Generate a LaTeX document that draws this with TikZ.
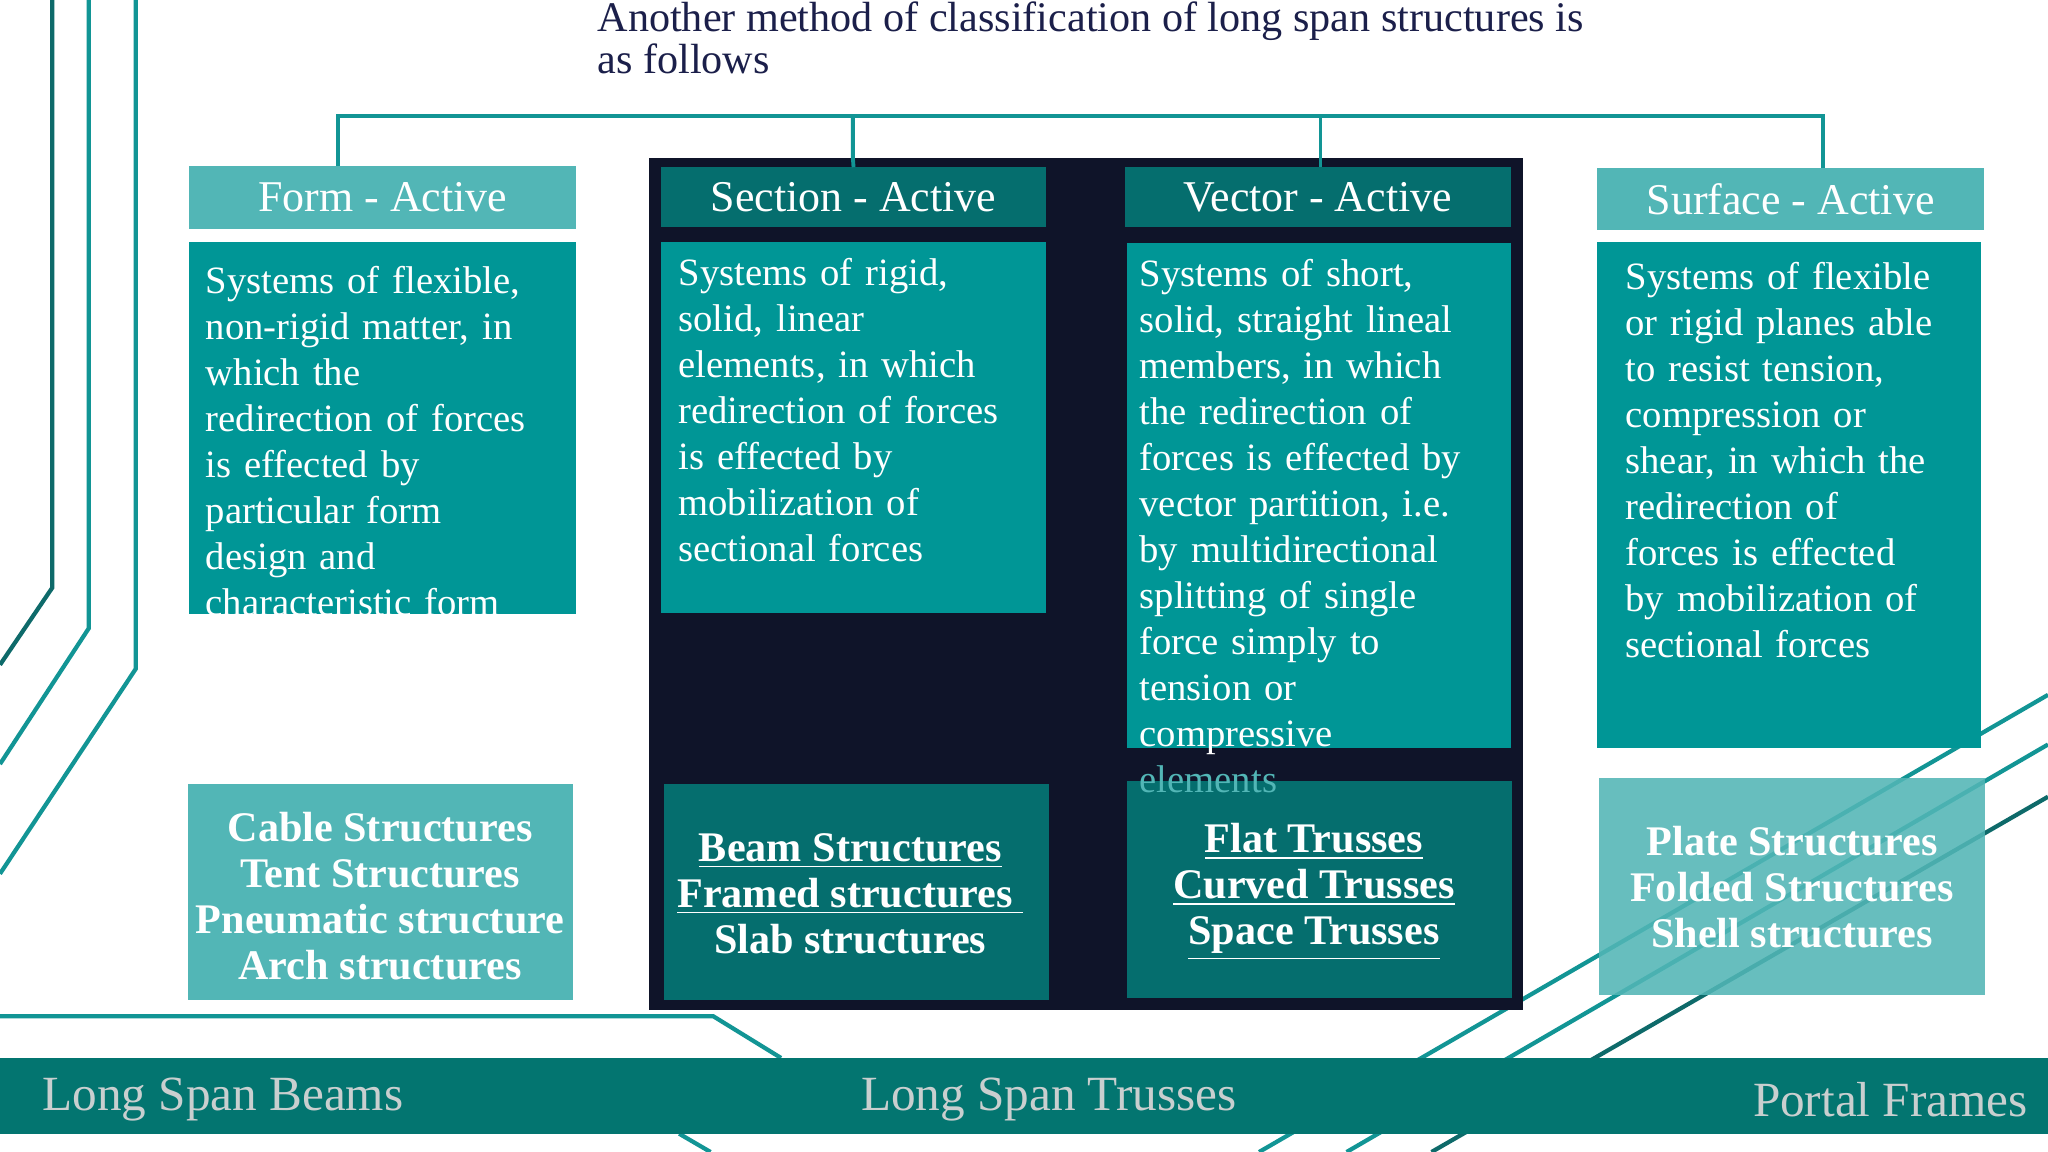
\documentclass[tikz,border=0pt]{standalone}
\usepackage{fontspec}
\setmainfont{Liberation Serif}
\definecolor{lt}{HTML}{52B6B6}
\definecolor{bd}{HTML}{009696}
\definecolor{dk}{HTML}{056E6E}
\definecolor{nv}{HTML}{0F1429}
\definecolor{band}{HTML}{037570}
\definecolor{bandtx}{HTML}{C9CFCF}
\definecolor{ttl}{HTML}{1B1F4A}
\definecolor{ln}{HTML}{129595}
\definecolor{ln2}{HTML}{0E6A6A}
\newcommand\jl[1]{\makebox[\linewidth][s]{#1}\par}
\newcommand\nl[1]{\mbox{#1}\par}
\begin{document}
\begin{tikzpicture}[x=0.013061cm,y=-0.013061cm,
  rect/.style={inner sep=0pt,outer sep=0pt,draw=none},
  hdr/.style={rect,text=white,font=\fontsize{12.5}{14}\selectfont},
  bodytx/.style={inner sep=0pt,anchor=north west,text=white,font=\fontsize{11}{13.1}\selectfont},
  bottx/.style={inner sep=0pt,align=center,text=white,font=\bfseries\fontsize{12}{13.1}\selectfont},
  deco/.style={ln,line width=1.2pt},
  conn/.style={ln,line width=1.1pt}]
\useasboundingbox (0,0) rectangle (1568,882);
\fill[white] (0,0) rectangle (1568,882);
% decorative lines
\draw[ln2,line width=1.2pt] (40,0) -- (40,450) -- (0,509);
\draw[deco] (68,0) -- (68,481) -- (0,585);
\draw[deco] (104,0) -- (104,512) -- (0,669);
\draw[deco] (0,778) -- (546,778) -- (598,810);
\draw[deco] (520,868) -- (544,882);
\draw[deco] (964,882) -- (1568,532);
\draw[deco] (1031,882) -- (1568,570);
\draw[ln2,line width=1.2pt] (1096,882) -- (1568,610);
% title
\node (title) [inner sep=0pt,anchor=north west,align=left,text=ttl,font=\fontsize{12}{11.8}\selectfont] at (457,1) {Another method of classification of long span structures is\\as follows};
% navy frame
\node (frame) [rect,fill=nv,minimum width={669*0.013061cm},minimum height={652*0.013061cm}] at (831.5,447) {};
% headers
\node (fh) [hdr,fill=lt,minimum width={296*0.013061cm},minimum height={48*0.013061cm}] at (293,151) {Form - Active};
\node (sh) [hdr,fill=dk,minimum width={295*0.013061cm},minimum height={46*0.013061cm}] at (653.5,151) {Section - Active};
\node (vh) [hdr,fill=dk,minimum width={296*0.013061cm},minimum height={46*0.013061cm}] at (1009,151) {Vector - Active};
\node (suh) [hdr,fill=lt,minimum width={296*0.013061cm},minimum height={47*0.013061cm}] at (1371,152.5) {Surface - Active};
% connectors
\coordinate (bus) at (0,89);
\coordinate (d1) at (259,127);
\coordinate (d2) at (653,121);
\coordinate (d3) at (1011,128);
\coordinate (d4) at (1396,129);
\draw[conn] (d1) -- (d1 |- bus) -- (d4 |- bus) -- (d4);
\draw[conn] (d2 |- bus) -- (d2) -- (sh.north);
\draw[conn] (d3 |- bus) -- (d3);
% body boxes
\node (fb) [rect,fill=bd,minimum width={296*0.013061cm},minimum height={285*0.013061cm}] at (293,327.5) {};
\node (sb) [rect,fill=bd,minimum width={295*0.013061cm},minimum height={284*0.013061cm}] at (653.5,327) {};
\node (vb) [rect,fill=bd,minimum width={294*0.013061cm},minimum height={387*0.013061cm}] at (1010,379.5) {};
\node (sub) [rect,fill=bd,minimum width={294*0.013061cm},minimum height={388*0.013061cm}] at (1370,379) {};
% bottom boxes
\node (fbt) [rect,fill=lt,minimum width={295*0.013061cm},minimum height={166*0.013061cm}] at (291.5,683) {};
\node (sbt) [rect,fill=dk,minimum width={295*0.013061cm},minimum height={166*0.013061cm}] at (655.5,683) {};
\node (vbt) [rect,fill=dk,minimum width={295*0.013061cm},minimum height={166*0.013061cm}] at (1010.5,681) {};
\node (subt) [rect,fill=lt,fill opacity=0.88,minimum width={296*0.013061cm},minimum height={166*0.013061cm}] at (1372,679) {};
% body texts
\begin{scope}
\clip (145,185) rectangle (441,470);
\node (ft) [bodytx,text width={269*0.013061cm}] at (157,203) {%
\jl{Systems of flexible,}\jl{non-rigid matter, in}\jl{which the}\jl{redirection of forces}\jl{is effected by}\jl{particular form}\jl{design and}\jl{characteristic form}};
\end{scope}
\node (st) [bodytx,text width={263*0.013061cm}] at (519,197) {%
\jl{Systems of rigid,}\jl{solid, linear}\jl{elements, in which}\jl{redirection of forces}\jl{is effected by}\jl{mobilization of}\nl{sectional forces}};
\node (vt) [bodytx,text width={272*0.013061cm}] at (872,198) {%
\jl{Systems of short,}\jl{solid, straight lineal}\jl{members, in which}\jl{the redirection of}\jl{forces is effected by}\jl{vector partition, i.e.}\jl{by multidirectional}\jl{splitting of single}\jl{force simply to}\jl{tension or}\nl{compressive}\nl{\textcolor{lt}{elements}}};
\node (sut) [bodytx,text width={270*0.013061cm},align=left] at (1244,200) {%
Systems of flexible\\or rigid planes able\\to resist tension,\\compression or\\shear, in which the\\redirection of\\forces is effected\\by mobilization of\\sectional forces};
% bottom texts
\begin{scope}
\clip (144,600) rectangle (439,766);
\node (fbx) [bottx] at (291,686) {Cable Structures\\Tent Structures\\Pneumatic structure\\Arch structures};
\end{scope}
\node (sbx) [bottx] at (651,684) {\underline{Beam Structures}\\\underline{Framed structures }\\Slab structures};
\node (vbx) [bottx] at (1006,683) {\underline{Flat Trusses}\\\underline{Curved Trusses}\\\underline{Space Trusses}};
\node (subx) [bottx] at (1372,679) {Plate Structures\\Folded Structures\\Shell structures};
% band
\node (band) [rect,fill=band,minimum width={1568*0.013061cm},minimum height={58*0.013061cm}] at (784,839) {};
\node (b1) [inner sep=0pt,anchor=west,text=bandtx,font=\fontsize{14}{16}\selectfont] at (32,842) {Long Span Beams};
\node (b2) [inner sep=0pt,text=bandtx,font=\fontsize{14}{16}\selectfont] at (803,842) {Long Span Trusses};
\node (b3) [inner sep=0pt,anchor=east,text=bandtx,font=\fontsize{14}{16}\selectfont] at (1553,842) {Portal Frames};
\end{tikzpicture}
\end{document}
